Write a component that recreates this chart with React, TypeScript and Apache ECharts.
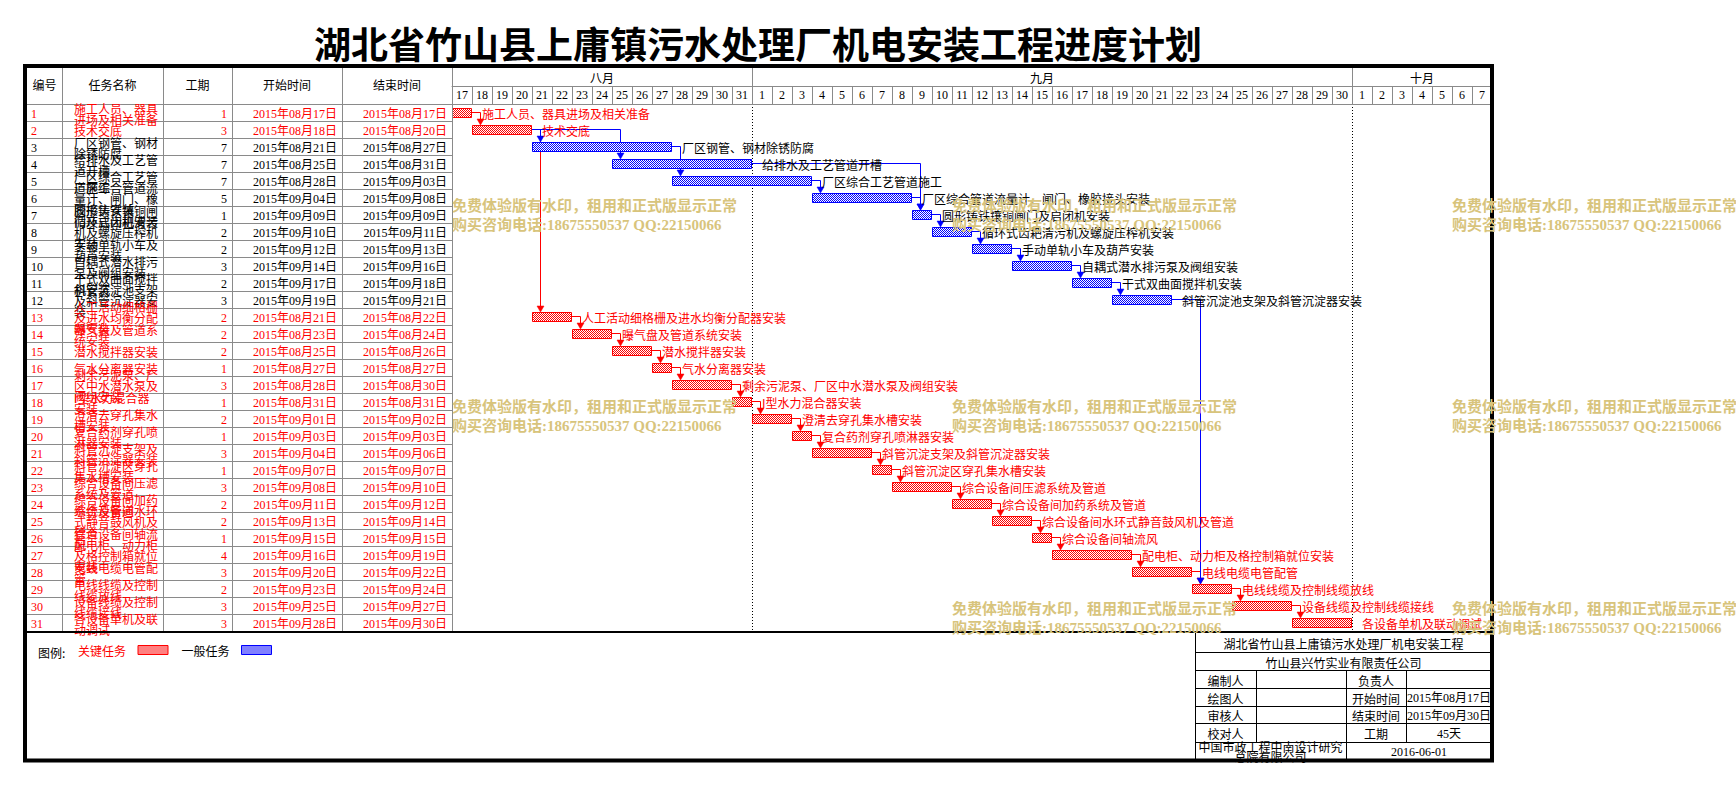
import React, { useEffect, useRef } from 'react';
import * as echarts from 'echarts';

// ---------------- data ----------------
const chartTitle = '湖北省竹山县上庸镇污水处理厂机电安装工程进度计划';
const tableHeaders = ['编号', '任务名称', '工期', '开始时间', '结束时间'];
const monthNames = ['八月', '九月', '十月'];
const dayTicks = [
  17, 18, 19, 20, 21, 22, 23, 24, 25, 26, 27, 28, 29, 30, 31,
  1, 2, 3, 4, 5, 6, 7, 8, 9, 10, 11, 12, 13, 14, 15, 16, 17, 18, 19, 20, 21, 22, 23, 24, 25, 26, 27, 28, 29, 30,
  1, 2, 3, 4, 5, 6, 7,
];
const taskIds = [1, 2, 3, 4, 5, 6, 7, 8, 9, 10, 11, 12, 13, 14, 15, 16, 17, 18, 19, 20, 21, 22, 23, 24, 25, 26, 27, 28, 29, 30, 31];
const taskNames = [
  '施工人员、器具进场及相关准备',
  '技术交底',
  '厂区钢管、钢材除锈防腐',
  '给排水及工艺管道开槽',
  '厂区综合工艺管道施工',
  '厂区综合管道流量计、闸门、橡胶接头安装',
  '圆形铸铁镶铜闸门及启闭机安装',
  '循环式齿耙清污机及螺旋压榨机安装',
  '手动单轨小车及葫芦安装',
  '自耦式潜水排污泵及阀组安装',
  '干式双曲面搅拌机安装',
  '斜管沉淀池支架及斜管沉淀器安装',
  '人工活动细格栅及进水均衡分配器安装',
  '曝气盘及管道系统安装',
  '潜水搅拌器安装',
  '气水分离器安装',
  '剩余污泥泵、厂区中水潜水泵及阀组安装',
  'I型水力混合器安装',
  '澄清去穿孔集水槽安装',
  '复合药剂穿孔喷淋器安装',
  '斜管沉淀支架及斜管沉淀器安装',
  '斜管沉淀区穿孔集水槽安装',
  '综合设备间压滤系统及管道',
  '综合设备间加药系统及管道',
  '综合设备间水环式静音鼓风机及管道',
  '综合设备间轴流风',
  '配电柜、动力柜及格控制箱就位安装',
  '电线电缆电管配管',
  '电线线缆及控制线缆放线',
  '设备线缆及控制线缆接线',
  '各设备单机及联动调试',
];
const durations = [1, 3, 7, 7, 7, 5, 1, 2, 2, 3, 2, 3, 2, 2, 2, 1, 3, 1, 2, 1, 3, 1, 3, 2, 2, 1, 4, 3, 2, 3, 3];
const startDates = [
  '2015年08月17日', '2015年08月18日', '2015年08月21日', '2015年08月25日', '2015年08月28日', '2015年09月04日',
  '2015年09月09日', '2015年09月10日', '2015年09月12日', '2015年09月14日', '2015年09月17日', '2015年09月19日',
  '2015年08月21日', '2015年08月23日', '2015年08月25日', '2015年08月27日', '2015年08月28日', '2015年08月31日',
  '2015年09月01日', '2015年09月03日', '2015年09月04日', '2015年09月07日', '2015年09月08日', '2015年09月11日',
  '2015年09月13日', '2015年09月15日', '2015年09月16日', '2015年09月20日', '2015年09月23日', '2015年09月25日',
  '2015年09月28日',
];
const endDates = [
  '2015年08月17日', '2015年08月20日', '2015年08月27日', '2015年08月31日', '2015年09月03日', '2015年09月08日',
  '2015年09月09日', '2015年09月11日', '2015年09月13日', '2015年09月16日', '2015年09月18日', '2015年09月21日',
  '2015年08月22日', '2015年08月24日', '2015年08月26日', '2015年08月27日', '2015年08月30日', '2015年08月31日',
  '2015年09月02日', '2015年09月03日', '2015年09月06日', '2015年09月07日', '2015年09月10日', '2015年09月12日',
  '2015年09月14日', '2015年09月15日', '2015年09月19日', '2015年09月22日', '2015年09月24日', '2015年09月27日',
  '2015年09月30日',
];
const taskKinds = [
  'key', 'key',
  'normal', 'normal', 'normal', 'normal', 'normal', 'normal', 'normal', 'normal', 'normal', 'normal',
  'key', 'key', 'key', 'key', 'key', 'key', 'key', 'key', 'key', 'key', 'key', 'key', 'key', 'key', 'key', 'key', 'key', 'key', 'key',
];
// [from task, to task, line kind]
const links = [
  [1, 2, 'key'], [2, 13, 'key'], [13, 14, 'key'], [14, 15, 'key'], [15, 16, 'key'], [16, 17, 'key'],
  [17, 18, 'key'], [18, 19, 'key'], [19, 20, 'key'], [20, 21, 'key'], [21, 22, 'key'], [22, 23, 'key'],
  [23, 24, 'key'], [24, 25, 'key'], [25, 26, 'key'], [26, 27, 'key'], [27, 28, 'key'], [28, 29, 'key'],
  [29, 30, 'key'], [30, 31, 'key'],
  [2, 3, 'normal'], [2, 4, 'normal'], [3, 5, 'normal'], [4, 7, 'normal'], [5, 6, 'normal'], [6, 7, 'normal'],
  [7, 8, 'normal'], [8, 9, 'normal'], [9, 10, 'normal'], [10, 11, 'normal'], [11, 12, 'normal'], [12, 29, 'normal'],
];
const legendTitle = '图例:';
const legendNames = ['关键任务', '一般任务'];
const projectName = '湖北省竹山县上庸镇污水处理厂机电安装工程';
const companyName = '竹山县兴竹实业有限责任公司';
const signRoles = ['编制人', '绘图人', '审核人', '校对人'];
const infoLabels = ['负责人', '开始时间', '结束时间', '工期'];
const infoValues = ['', '2015年08月17日', '2015年09月30日', '45天'];
const designInstitute = '中国市政工程中南设计研究总院有限公司';
const issueDate = '2016-06-01';
const watermarkLines = ['免费体验版有水印，租用和正式版显示正常', '购买咨询电话:18675550537 QQ:22150066'];

// ---------------- layout / style ----------------
const FONT_CJK = "'Noto Sans CJK SC', sans-serif";
const FONT_MIX = "'Liberation Serif', 'Noto Sans CJK SC', serif";
const GRID_GRAY = '#8a8a8a';
const RED = '#ff0000';
const BLUE = '#0000ff';
const WATER = '#d8c47c';
const TABLE_COLS = [27, 62, 163, 232, 342, 452];
const HEAD_TOP = 68;
const BODY_TOP = 104;
const BODY_BOTTOM = 631;
const TB_X = [1195, 1256, 1346, 1406, 1492];
const TB_Y = [633, 652, 670, 688, 706, 723, 742, 759];
const WM_POS = [[452, 206], [952, 206], [1452, 206], [452, 407], [952, 407], [1452, 407], [952, 609], [1452, 609]];

const checkerUrl = (c: string) =>
  'data:image/svg+xml;charset=utf-8,' +
  encodeURIComponent(
    `<svg xmlns="http://www.w3.org/2000/svg" width="2" height="2" shape-rendering="crispEdges"><rect width="2" height="2" fill="#ffffff"/><rect width="1" height="1" fill="${c}"/><rect x="1" y="1" width="1" height="1" fill="${c}"/></svg>`
  );
const pattern = (c: string) => ({ image: checkerUrl(c), repeat: 'repeat', imageWidth: 2, imageHeight: 2 });

const BASE = Date.UTC(2015, 7, 17);
const dayIndex = (s: string) => {
  const m = /(\d+)年(\d+)月(\d+)日/.exec(s)!;
  return Math.round((Date.UTC(+m[1], +m[2] - 1, +m[3]) - BASE) / 86400000);
};
const starts = startDates.map(dayIndex);
const ends = endDates.map((d) => dayIndex(d) + 1);
const wrap = (s: string, n: number) => {
  const out: string[] = [];
  for (let i = 0; i < s.length; i += n) out.push(s.slice(i, i + n));
  return out.join('\n');
};

function buildOption() {
  const dayKeys = dayTicks.map((_, i) => String(i));
  const monthStarts = dayTicks.map((d, i) => (d === 1 && i > 0 ? i : -1)).filter((i) => i >= 0);
  const bounds = [0, ...monthStarts, dayTicks.length];
  const monthLabelAt: Record<number, string> = {};
  monthNames.forEach((m, k) => {
    monthLabelAt[Math.floor((bounds[k] + bounds[k + 1] - 1) / 2)] = m;
  });

  const barSeries = (kind: string, name: string, color: string) => ({
    type: 'custom',
    name,
    xAxisIndex: 0,
    yAxisIndex: 0,
    z: 3,
    clip: false,
    silent: true,
    itemStyle: { color: pattern(color), borderColor: color, borderWidth: 1 },
    encode: { x: [0, 1], y: 2 },
    data: taskIds
      .map((_, i) => i)
      .filter((i) => taskKinds[i] === kind)
      .map((i) => [starts[i], ends[i], i]),
    renderItem: (params: any, api: any) => {
      const row = api.value(2);
      const s = api.coord([api.value(0), row]);
      const e = api.coord([api.value(1), row]);
      const x0 = Math.round(s[0]) + 0.5;
      const x1 = Math.round(e[0]) - 0.5;
      const top = Math.floor(s[1]) - 4 + 0.5;
      return {
        type: 'group',
        children: [
          {
            type: 'rect',
            shape: { x: x0, y: top, width: x1 - x0, height: 9 },
            style: { fill: pattern(color), stroke: color, lineWidth: 1 },
          },
          {
            type: 'text',
            x: Math.round(e[0]) + 10,
            y: s[1] + 1,
            style: {
              text: taskNames[row],
              fill: kind === 'key' ? RED : '#000',
              fontSize: 12,
              fontFamily: FONT_CJK,
              align: 'left',
              verticalAlign: 'middle',
            },
          },
        ],
      };
    },
  });

  const linkSeries = {
    type: 'custom',
    name: 'links',
    xAxisIndex: 0,
    yAxisIndex: 0,
    z: 2,
    clip: false,
    silent: true,
    encode: { x: [0, 2], y: [1, 3] },
    data: links.map(([f, t, k]) => [ends[(f as number) - 1], (f as number) - 1, starts[(t as number) - 1], (t as number) - 1, k === 'key' ? 0 : 1]),
    renderItem: (params: any, api: any) => {
      const p1 = api.coord([api.value(0), api.value(1)]);
      const p2 = api.coord([api.value(2), api.value(3)]);
      const color = api.value(4) === 0 ? RED : BLUE;
      const lx = Math.round(p2[0]) + 8.5;
      const tip = Math.floor(p2[1]) - 4;
      return {
        type: 'group',
        children: [
          {
            type: 'polyline',
            shape: { points: [[Math.round(p1[0]), p1[1]], [lx, p1[1]], [lx, tip - 5]] },
            style: { stroke: color, lineWidth: 1, fill: 'none' },
          },
          {
            type: 'polygon',
            shape: { points: [[lx - 3.5, tip - 6], [lx + 3.5, tip - 6], [lx, tip]] },
            style: { fill: color, stroke: color, lineWidth: 0.5 },
          },
        ],
      };
    },
  };

  const tableSeries = {
    type: 'custom',
    name: 'table',
    xAxisIndex: 3,
    yAxisIndex: 1,
    z: 2,
    clip: false,
    silent: true,
    encode: { x: 0, y: 1 },
    data: taskIds.map((_, i) => [0, i]),
    renderItem: (params: any, api: any) => {
      const i = api.value(1);
      const c = api.coord([0, i]);
      const color = taskKinds[i] === 'key' ? RED : '#000';
      const base = { fill: color, fontSize: 12, fontFamily: FONT_MIX, verticalAlign: 'middle' };
      const at = (v: number) => api.coord([v, i])[0];
      return {
        type: 'group',
        children: [
          { type: 'text', x: at(4), y: c[1] + 1, style: { ...base, text: String(taskIds[i]), align: 'left' } },
          {
            type: 'text',
            x: at(47),
            y: c[1] + 1,
            style: { ...base, fontFamily: FONT_CJK, text: wrap(taskNames[i], 7), align: 'left', lineHeight: 11 },
          },
          { type: 'text', x: at(200), y: c[1] + 1, style: { ...base, text: String(durations[i]), align: 'right' } },
          { type: 'text', x: at(310), y: c[1] + 1, style: { ...base, text: startDates[i], align: 'right' } },
          { type: 'text', x: at(420), y: c[1] + 1, style: { ...base, text: endDates[i], align: 'right' } },
        ],
      };
    },
  };

  const graphics: any[] = [];
  const line = (x1: number, y1: number, x2: number, y2: number, stroke: string, lineWidth = 1, z = 20) =>
    graphics.push({ type: 'line', z, silent: true, shape: { x1, y1, x2, y2 }, style: { stroke, lineWidth } });
  const text = (x: number, y: number, t: string, extra: any = {}) =>
    graphics.push({
      type: 'text',
      x,
      y,
      z: 20,
      silent: true,
      style: { text: t, fill: '#000', fontSize: 12, fontFamily: FONT_MIX, align: 'center', verticalAlign: 'middle', ...extra },
    });

  // title
  text(758, 43, chartTitle, { fontSize: 37, fontWeight: 'bold', fontFamily: FONT_CJK });
  // table column lines
  TABLE_COLS.slice(1).forEach((x) => line(x + 0.5, HEAD_TOP, x + 0.5, BODY_BOTTOM, GRID_GRAY));
  // table headers
  tableHeaders.forEach((h, k) => text((TABLE_COLS[k] + TABLE_COLS[k + 1]) / 2, (HEAD_TOP + BODY_TOP) / 2, h));
  // bottom separator
  line(27, 632, 1490, 632, '#000', 2);
  // title block lines
  TB_Y.slice(1, 7).forEach((y) => line(TB_X[0], y + 0.5, TB_X[4], y + 0.5, '#000'));
  line(TB_X[0] + 0.5, TB_Y[0], TB_X[0] + 0.5, TB_Y[7], '#000');
  line(TB_X[1] + 0.5, TB_Y[2], TB_X[1] + 0.5, TB_Y[6], '#000');
  line(TB_X[3] + 0.5, TB_Y[2], TB_X[3] + 0.5, TB_Y[6], '#000');
  line(TB_X[2] + 0.5, TB_Y[2], TB_X[2] + 0.5, TB_Y[7], '#000');
  const tbCx = (TB_X[0] + TB_X[4]) / 2;
  text(tbCx, (TB_Y[0] + TB_Y[1]) / 2 + 1, projectName, { fontFamily: FONT_CJK });
  text(tbCx, (TB_Y[1] + TB_Y[2]) / 2 + 1, companyName, { fontFamily: FONT_CJK });
  signRoles.forEach((r, k) => {
    const cy = (TB_Y[2 + k] + TB_Y[3 + k]) / 2 + 1;
    text((TB_X[0] + TB_X[1]) / 2, cy, r, { fontFamily: FONT_CJK });
    text((TB_X[2] + TB_X[3]) / 2, cy, infoLabels[k], { fontFamily: FONT_CJK });
    if (infoValues[k]) text((TB_X[3] + TB_X[4]) / 2, cy, infoValues[k]);
  });
  text((TB_X[0] + TB_X[2]) / 2, (TB_Y[6] + TB_Y[7]) / 2 + 1, wrap(designInstitute, 12), { fontFamily: FONT_CJK, lineHeight: 10 });
  text((TB_X[2] + TB_X[4]) / 2, (TB_Y[6] + TB_Y[7]) / 2 + 1, issueDate);
  // legend title
  text(38, 652, legendTitle, { align: 'left', fontFamily: FONT_CJK });
  // outer frame
  graphics.push({
    type: 'rect',
    z: 30,
    silent: true,
    shape: { x: 25, y: 66, width: 1467, height: 694.5 },
    style: { fill: 'none', stroke: '#000', lineWidth: 4 },
  });
  // watermarks
  WM_POS.forEach(([x, y]) => {
    watermarkLines.forEach((t, k) =>
      graphics.push({
        type: 'text',
        x,
        y: y + k * 19,
        z: 40,
        silent: true,
        style: { text: t, fill: WATER, fontSize: 15, fontWeight: 'bold', fontFamily: FONT_MIX, align: 'left', verticalAlign: 'middle' },
      })
    );
  });

  return {
    animation: false,
    backgroundColor: '#ffffff',
    grid: [
      { left: 452, top: BODY_TOP, width: 1040, height: BODY_BOTTOM - BODY_TOP },
      { left: TABLE_COLS[0], top: BODY_TOP, width: TABLE_COLS[5] - TABLE_COLS[0], height: BODY_BOTTOM - BODY_TOP },
    ],
    xAxis: [
      { type: 'value', gridIndex: 0, min: 0, max: dayTicks.length, show: false },
      {
        type: 'category',
        gridIndex: 0,
        position: 'top',
        data: dayKeys,
        boundaryGap: true,
        axisLine: { show: true, lineStyle: { color: GRID_GRAY, width: 1 } },
        axisTick: { show: true, interval: 0, length: BODY_TOP - 86, inside: false, lineStyle: { color: GRID_GRAY } },
        axisLabel: {
          interval: 0,
          margin: 9,
          verticalAlign: 'middle',
          color: '#000',
          fontSize: 12,
          fontFamily: FONT_MIX,
          formatter: (v: string) => String(dayTicks[+v]),
        },
        splitLine: {
          show: true,
          interval: (i: number) => monthStarts.indexOf(i) >= 0,
          lineStyle: { color: '#000', type: [1, 2], width: 1 },
        },
      },
      {
        type: 'category',
        gridIndex: 0,
        position: 'top',
        offset: BODY_TOP - 86,
        data: dayKeys,
        boundaryGap: true,
        axisLine: { show: true, lineStyle: { color: GRID_GRAY, width: 1 } },
        axisTick: {
          show: true,
          interval: (i: number) => monthStarts.indexOf(i) >= 0,
          length: 86 - HEAD_TOP,
          inside: false,
          lineStyle: { color: GRID_GRAY },
        },
        axisLabel: {
          interval: 0,
          margin: 9,
          verticalAlign: 'middle',
          color: '#000',
          fontSize: 12,
          fontFamily: FONT_CJK,
          formatter: (v: string) => monthLabelAt[+v] || '',
        },
        splitLine: { show: false },
      },
      { type: 'value', gridIndex: 1, min: 0, max: TABLE_COLS[5] - TABLE_COLS[0], show: false },
    ],
    yAxis: [
      { type: 'category', gridIndex: 0, data: taskIds.map(String), inverse: true, show: false },
      {
        type: 'category',
        gridIndex: 1,
        data: taskIds.map(String),
        inverse: true,
        axisLine: { show: false },
        axisTick: { show: false },
        axisLabel: { show: false },
        splitLine: { show: true, lineStyle: { color: GRID_GRAY, width: 1 } },
      },
    ],
    legend: {
      left: 78,
      top: 644,
      padding: 0,
      align: 'right',
      itemWidth: 30,
      itemHeight: 9,
      itemGap: 13,
      selectedMode: false,
      textStyle: { fontSize: 12, fontFamily: FONT_CJK, padding: [0, 7, 0, 0] },
      data: [
        { name: legendNames[0], icon: 'rect', textStyle: { color: RED }, itemStyle: { color: pattern(RED), borderColor: RED, borderWidth: 1 } },
        { name: legendNames[1], icon: 'rect', textStyle: { color: '#000' }, itemStyle: { color: pattern(BLUE), borderColor: BLUE, borderWidth: 1 } },
      ],
    },
    graphic: graphics,
    series: [linkSeries, barSeries('key', legendNames[0], RED), barSeries('normal', legendNames[1], BLUE), tableSeries],
  };
}

export default function App() {
  const ref = useRef<HTMLDivElement>(null);
  useEffect(() => {
    const chart = echarts.init(ref.current!, null, { renderer: 'svg' });
    chart.setOption(buildOption() as any);
    return () => chart.dispose();
  }, []);
  return (
    <div
      ref={ref}
      style={{ position: 'fixed', left: 0, top: 0, width: 1736, height: 786, background: '#ffffff' }}
    />
  );
}
